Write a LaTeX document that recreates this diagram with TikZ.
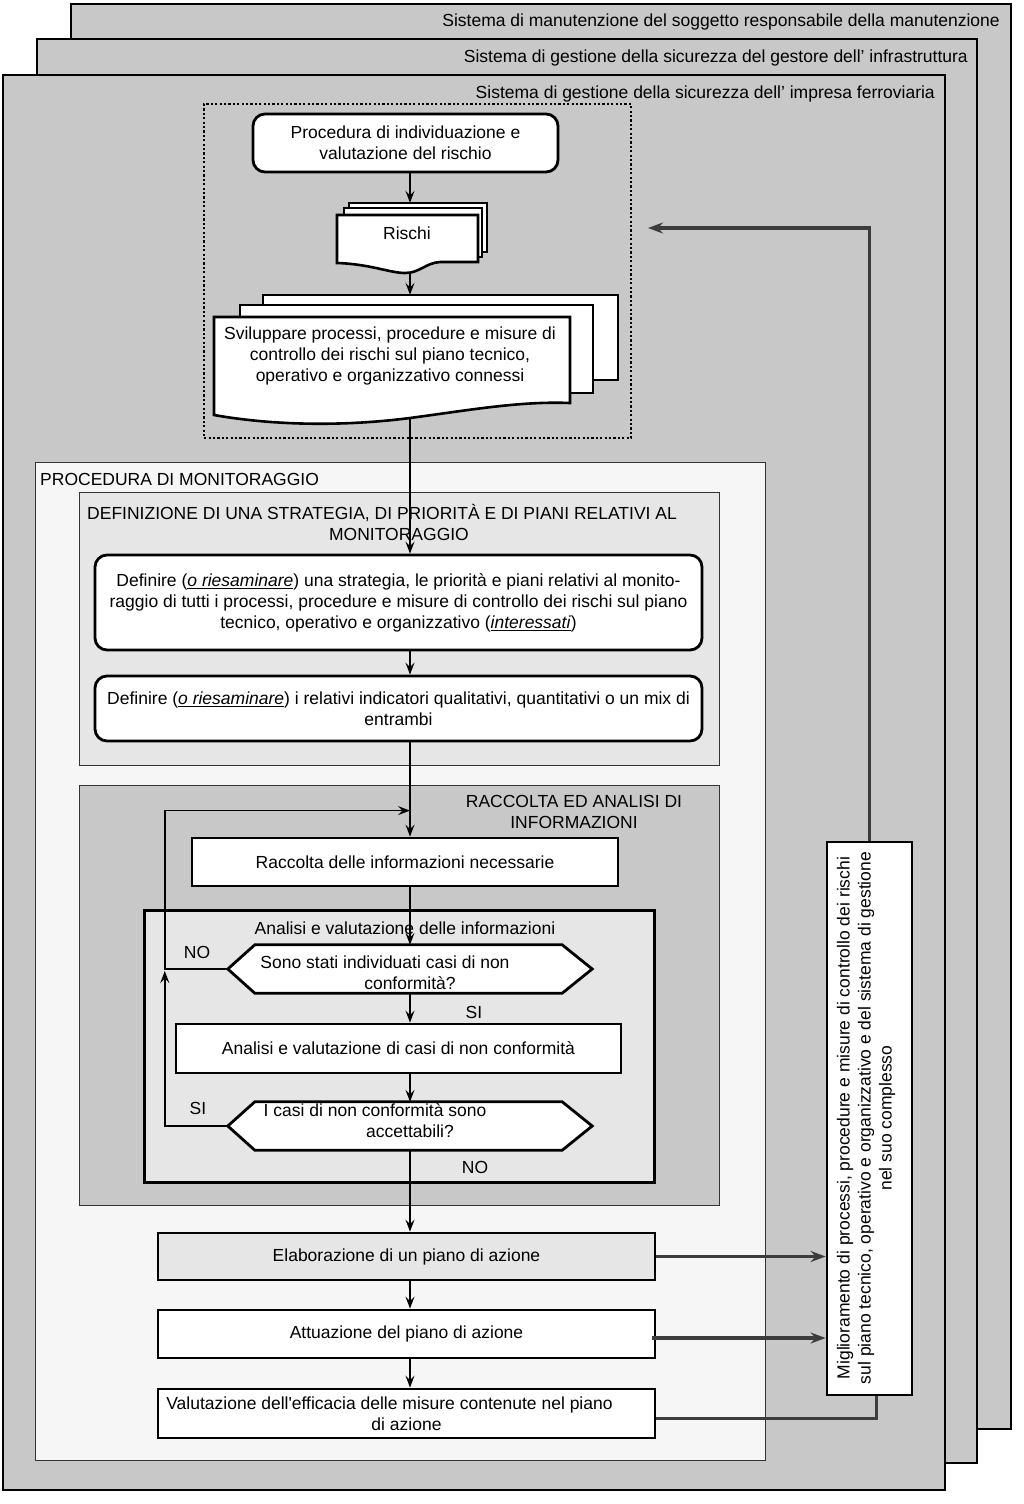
\documentclass[tikz,border=0pt]{standalone}
\usepackage{fontspec}
\setmainfont{Liberation Sans}
\usetikzlibrary{arrows.meta,calc}
\definecolor{panelg}{HTML}{C8C8C8}
\definecolor{lightg}{HTML}{E6E6E6}
\definecolor{vlightg}{HTML}{F6F6F6}
\definecolor{fbc}{HTML}{3C3C3C}
\begin{document}
\begin{tikzpicture}[x=1pt,y=-1pt,
  every node/.style={font=\fontsize{17.5}{21}\selectfont},
  pan/.style={draw=black, line width=2.2pt, fill=panelg},
  cont/.style={draw=black!80, line width=1.4pt},
  box/.style={draw=black, line width=2.8pt, fill=white, align=center, inner sep=2pt},
  rbox/.style={box, rounded corners=12pt},
  docsh/.style={draw=black, line width=2.6pt, fill=white, line join=miter},
  arr/.style={line width=1.6pt, -{Stealth[length=12pt,width=9pt,inset=4.5pt]}},
  fbarr/.style={draw=fbc, line width=3.2pt, -{Stealth[length=15pt,width=11pt,inset=5pt]}},
  fbln/.style={draw=fbc, line width=3.2pt},
  hexsh/.style={draw=black, line width=2.8pt, fill=white},
  lab/.style={inner sep=0pt}
]
\useasboundingbox (0,0) rectangle (1024,1504);
\fill[white] (0,0) rectangle (1024,1504);

% panels
\node[pan, inner sep=0, minimum width=940, minimum height=1425, anchor=north west] (p1) at (70,3) {};
\node[lab, anchor=east] (p1l) at (1000,22) {Sistema di manutenzione del soggetto responsabile della manutenzione};
\node[pan, inner sep=0, minimum width=940, minimum height=1424, anchor=north west] (p2) at (36,38) {};
\node[lab, anchor=east] (p2l) at (968,58) {Sistema di gestione della sicurezza del gestore dell’ infrastruttura};
\node[pan, inner sep=0, minimum width=942, minimum height=1415, anchor=north west] (p3) at (2,74) {};
\node[lab, anchor=east] (p3l) at (935,94) {Sistema di gestione della sicurezza dell’ impresa ferroviaria};

% dotted box
\node[draw=black, line width=2.2pt, dash pattern=on 2.2pt off 2.2pt, inner sep=0, minimum width=427, minimum height=334, anchor=north west] (dotbox) at (203,103) {};

\coordinate (spine) at (410,0);

% top part
\node[rbox, minimum width=305, minimum height=58] (proc) at (405.5,143) {Procedura di individuazione e\\valutazione del rischio};

% Rischi documents
\draw[docsh] (349,203) rectangle (487,252);
\draw[docsh] (344,208) rectangle (482,257);
\draw[docsh] (337,215) -- (478,215) -- (478,262) -- (440,262) .. controls (425,263) and (420,273) .. (405,273) .. controls (390,273) and (370,264) .. (337,263) -- cycle;
\node[inner sep=0, minimum width=150, minimum height=69] (rischi) at (412,237.5) {};
\node[lab] (rischiT) at (407,233) {Rischi};

% Sviluppare documents
\draw[docsh] (263,295) rectangle (618,380);
\draw[docsh] (240,305) rectangle (593,393);
\draw[docsh] (214,317) -- (570,317) -- (570,403) .. controls (520,401) and (470,410) .. (410,418) .. controls (340,427) and (270,425) .. (214,415) -- cycle;
\node[inner sep=0, minimum width=404, minimum height=123] (svil) at (416,356.5) {};
\node[lab, align=center] (svilT) at (390,356) {Sviluppare processi, procedure e misure di\\controllo dei rischi sul piano tecnico,\\operativo e organizzativo connessi};

% Procedura di monitoraggio
\node[cont, fill=vlightg, inner sep=0, minimum width=730, minimum height=998, anchor=north west] (mon) at (35,462) {};
\node[lab, anchor=west] (monl) at (40,479) {PROCEDURA DI MONITORAGGIO};

\node[cont, fill=lightg, inner sep=0, minimum width=640, minimum height=273, anchor=north west] (defc) at (79,492) {};
\node[lab, align=center] (defcl) at (382,522) {DEFINIZIONE DI UNA STRATEGIA, DI PRIORITÀ E DI PIANI RELATIVI AL\\\hspace*{34pt}MONITORAGGIO};

\node[rbox, minimum width=607, minimum height=95] (def1) at (398.5,602.5) {Definire (\underline{\textit{o riesaminare}}) una strategia, le priorità e piani relativi al monito-\\raggio di tutti i processi, procedure e misure di controllo dei rischi sul piano\\tecnico, operativo e organizzativo (\underline{\textit{interessati}})};
\node[rbox, minimum width=607, minimum height=65] (def2) at (398.5,708.5) {Definire (\underline{\textit{o riesaminare}}) i relativi indicatori qualitativi, quantitativi o un mix di\\entrambi};

% Raccolta ed analisi
\node[cont, fill=panelg, inner sep=0, minimum width=640, minimum height=420, anchor=north west] (racc) at (79,785) {};
\node[lab, align=center] (raccl) at (574,812) {RACCOLTA ED ANALISI DI\\INFORMAZIONI};

\node[box, minimum width=426, minimum height=48] (rac) at (405,862) {Raccolta delle informazioni necessarie};

\node[draw=black, line width=2.8pt, fill=lightg, inner sep=0, minimum width=510, minimum height=272, anchor=north west] (anc) at (143,909) {};
\node[lab] (ancl) at (405,928) {Analisi e valutazione delle informazioni};

% hexagon 1
\node[inner sep=0, minimum width=364, minimum height=48] (h1) at (410,969) {};
\draw[hexsh] (h1.west) -- ($(h1.north west)+(27,0)$) -- ($(h1.north east)+(-30,0)$) -- (h1.east) -- ($(h1.south east)+(-30,0)$) -- ($(h1.south west)+(27,0)$) -- cycle;
\node[lab, align=center] (h1t) at (410,973) {Sono stati individuati casi di non\hspace*{50pt}\\conformità?};

\node[box, minimum width=445, minimum height=49] (anb) at (398.5,1048.5) {Analisi e valutazione di casi di non conformità};

% hexagon 2
\node[inner sep=0, minimum width=364, minimum height=48] (h2) at (410,1126) {};
\draw[hexsh] (h2.west) -- ($(h2.north west)+(27,0)$) -- ($(h2.north east)+(-30,0)$) -- (h2.east) -- ($(h2.south east)+(-30,0)$) -- ($(h2.south west)+(27,0)$) -- cycle;
\node[lab, align=center] (h2t) at (410,1121) {I casi di non conformità sono\hspace*{70pt}\\accettabili?};

\node[lab] (no1) at (197,952) {NO};
\node[lab] (si1) at (474,1012) {SI};
\node[lab] (si2) at (198,1108) {SI};
\node[lab] (no2) at (475,1167) {NO};

% action boxes
\node[box, fill=lightg, minimum width=497, minimum height=47] (elab) at (406.5,1256.5) {Elaborazione di un piano di azione};
\node[box, minimum width=497, minimum height=48] (att) at (406.5,1334) {Attuazione del piano di azione};
\node[box, inner sep=0pt, minimum width=497, minimum height=49] (val) at (406.5,1413.5) {Valutazione dell\textquotesingle efficacia delle misure contenute nel piano\hspace*{34pt}\\di azione};

% right box
\node[box, minimum width=85, minimum height=553] (migl) at (869.5,1118.5) {};
\node[lab, rotate=90, align=center] (miglT) at (866,1118) {Miglioramento di processi, procedure e misure di controllo dei rischi\\sul piano tecnico, operativo e organizzativo e del sistema di gestione\\nel suo complesso};

\coordinate (fbend) at (648,228);

% connectors
\draw[arr] (proc.south -| spine) -- (rischi.north -| spine);
\draw[arr] (rischi.south -| spine) -- (svil.north -| spine);
\draw[arr] (svil.south -| spine) -- (def1.north -| spine);
\draw[arr] (def1.south -| spine) -- (def2.north -| spine);
\draw[arr] (def2.south -| spine) -- (rac.north -| spine);
\draw[arr] (rac.south -| spine) -- (h1.north);
\draw[arr] (h1.south) -- (anb.north -| spine);
\draw[arr] (anb.south -| spine) -- (h2.north);
\draw[arr] (h2.south) -- (elab.north -| spine);
\draw[arr] (elab.south -| spine) -- (att.north -| spine);
\draw[arr] (att.south -| spine) -- (val.north -| spine);
\draw[arr] (h1.west) -- ++(-63,0) |- ($(rac.north -| spine)+(0,-26)$);
\draw[arr] (h2.west) -- ++(-63,0) -- ($(h1.west)+(-63,2)$);

\draw[fbarr] (elab.east) -- (elab.east -| migl.west);
\draw[fbarr] ($(att.east)+(-4,4)$) -- ($(att.east -| migl.west)+(0,4)$);
\draw[fbln] ($(val.east)+(0,5)$) -| ($(migl.south)+(7,0)$);
\draw[fbarr] (migl.north) |- (fbend);
\end{tikzpicture}
\end{document}
